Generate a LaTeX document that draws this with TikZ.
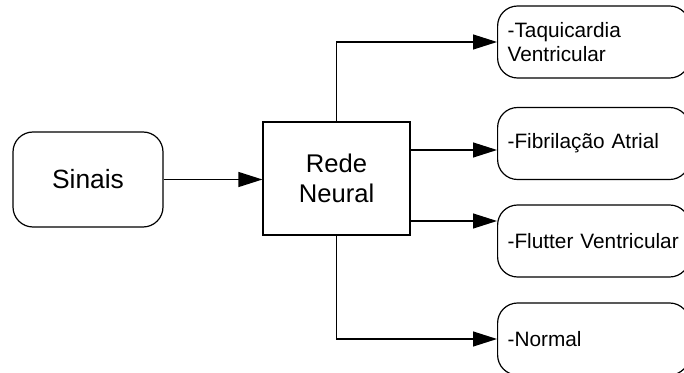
\documentclass[tikz,border=0pt]{standalone}
\usepackage{fontspec}
\setsansfont{Liberation Sans}
\usetikzlibrary{positioning,calc,arrows.meta}

\begin{document}
\begin{tikzpicture}[x=0.5pt, y=-0.5pt, font=\sffamily, line width=0.6pt,
    roundbox/.style={draw, rounded corners=10pt, minimum width=75pt, minimum height=47.5pt, font=\sffamily\fontsize{13.2}{15}\selectfont},
    squarebox/.style={draw, minimum width=73.5pt, minimum height=56.5pt, align=center, font=\sffamily\fontsize{12.8}{15}\selectfont},
    outbox/.style={draw, rounded corners=10pt, anchor=west, minimum height=36pt, inner xsep=5pt, text width=86pt, align=left, font=\sffamily\fontsize{10.4}{12}\selectfont},
    arr/.style={-{Triangle[length=12pt, width=7.5pt]}}]
        \useasboundingbox (0,0) rectangle (684,373);
        \clip (0,0) rectangle (684,373);

        % entrada e rede
        \node[roundbox] (sinais) at (88,179.5) {Sinais};
        \node[squarebox] (rede) at (336.5,178.5) {Rede\\Neural};

        % saidas
        \node[outbox] (taqui) at (497,42) {-Taquicardia\\Ventricular};
        \node[outbox] (fibri) at (497,143.5) {-Fibrilação Atrial};
        \node[outbox] (flutter) at (497,241) {-Flutter Ventricular};
        \node[outbox] (normal) at (497,339) {-Normal};

        % ligacoes
        \coordinate (rfibri) at ($(rede.east)+(0,-28.5)$);
        \coordinate (rflutter) at ($(rede.east)+(0,42.5)$);
        \draw[arr] (sinais.east) -- (sinais.east -| rede.west);
        \draw[arr] (rede.north) |- (taqui.west);
        \draw[arr] (rfibri) -- (rfibri -| fibri.west);
        \draw[arr] (rflutter) -- (rflutter -| flutter.west);
        \draw[arr] (rede.south) |- (normal.west);
    \end{tikzpicture}
\end{document}
